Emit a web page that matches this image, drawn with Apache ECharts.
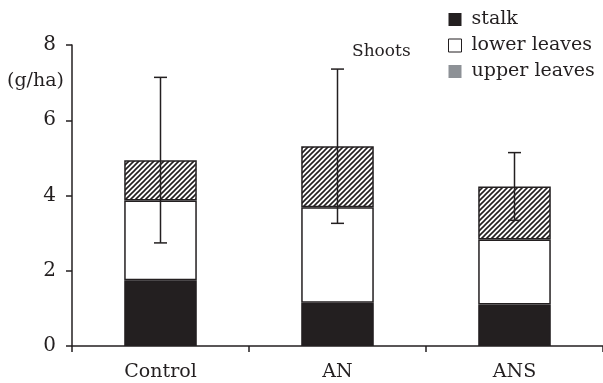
<!DOCTYPE html>
<html><head><meta charset="utf-8">
<script src="https://cdn.jsdelivr.net/npm/echarts@6/dist/echarts.min.js"></script>
<style>html,body{margin:0;padding:0;background:#fff}#c{width:603px;height:383px}</style>
</head><body><div id="c"></div>
<script>
const categories = ['Control', 'AN', 'ANS'];
const stalk = [1.75, 1.15, 1.10];
const lowerLeaves = [2.12, 2.54, 1.73];
const upperLeaves = [1.07, 1.62, 1.41];
const errSD = [2.2, 2.05, 0.9];
const yTicks = [0, 2, 4, 6, 8];

const FONT = 'DejaVu Serif';
const INK = '#231f20';

function hatch() {
  const s = 5, c = document.createElement('canvas');
  c.width = s; c.height = s;
  const g = c.getContext('2d');
  g.fillStyle = '#fff'; g.fillRect(0, 0, s, s);
  g.strokeStyle = INK; g.lineWidth = 1.6;
  g.beginPath();
  g.moveTo(-1, s + 1); g.lineTo(s + 1, -1);
  g.moveTo(-1, 1); g.lineTo(1, -1);
  g.moveTo(s - 1, s + 1); g.lineTo(s + 1, s - 1);
  g.stroke();
  return c;
}

const totals = categories.map((_, i) => stalk[i] + lowerLeaves[i] + upperLeaves[i]);
const errData = categories.map((c, i) => [i, totals[i] - errSD[i], totals[i] + errSD[i]]);

const chart = echarts.init(document.getElementById('c'), null, {renderer: 'canvas'});
const barStyle = {borderColor: INK, borderWidth: 1.5};
chart.setOption({
  animation: false,
  textStyle: {fontFamily: FONT, color: INK},
  grid: {left: 72, top: 45, bottom: 37, width: 536},
  legend: {
    orient: 'vertical', left: 443, top: 5, itemGap: 7,
    itemWidth: 13, itemHeight: 13, icon: 'rect',
    textStyle: {fontFamily: FONT, fontSize: 19, color: INK, padding: [0, 0, 0, 5]},
    data: [
      {name: 'stalk', itemStyle: {color: INK, borderWidth: 0}},
      {name: 'lower leaves', itemStyle: {color: '#fff', borderColor: INK, borderWidth: 1}},
      {name: 'upper leaves', itemStyle: {color: '#8d9196', borderWidth: 0}}
    ]
  },
  xAxis: {
    type: 'category', data: categories,
    axisLine: {lineStyle: {color: INK, width: 1.5}},
    axisTick: {show: true, length: 6, lineStyle: {color: INK, width: 1.5}},
    axisLabel: {fontFamily: FONT, fontSize: 19, color: INK, margin: 17}
  },
  yAxis: {
    type: 'value', min: 0, max: 8, interval: 2,
    axisLine: {show: true, lineStyle: {color: INK, width: 1.5}},
    axisTick: {show: true, length: 6, lineStyle: {color: INK, width: 1.5}},
    splitLine: {show: false},
    axisLabel: {fontFamily: FONT, fontSize: 20, color: INK, margin: 16,
      formatter: v => yTicks.includes(v) ? String(v) : ''}
  },
  graphic: [
    {type: 'text', left: 7, top: 72, style: {text: '(g/ha)', font: '19px "DejaVu Serif"', fill: INK}},
    {type: 'text', left: 352, top: 43, style: {text: 'Shoots', font: '17px "DejaVu Serif"', fill: INK}}
  ],
  series: [
    {name: 'stalk', type: 'bar', stack: 't', barWidth: '41%', data: stalk,
      itemStyle: Object.assign({color: INK}, barStyle)},
    {name: 'lower leaves', type: 'bar', stack: 't', data: lowerLeaves,
      itemStyle: Object.assign({color: '#fff'}, barStyle)},
    {name: 'upper leaves', type: 'bar', stack: 't', data: upperLeaves,
      itemStyle: Object.assign({color: {image: hatch(), repeat: 'repeat'}}, barStyle)},
    {name: 'err', type: 'custom', data: errData, z: 10,
      renderItem: (params, api) => {
        const x = api.value(0);
        const lo = api.coord([x, api.value(1)]);
        const hi = api.coord([x, api.value(2)]);
        const w = 6.5;
        const st = {stroke: INK, lineWidth: 1.5};
        return {type: 'group', children: [
          {type: 'line', shape: {x1: lo[0], y1: lo[1], x2: hi[0], y2: hi[1]}, style: st},
          {type: 'line', shape: {x1: lo[0] - w, y1: lo[1], x2: lo[0] + w, y2: lo[1]}, style: st},
          {type: 'line', shape: {x1: hi[0] - w, y1: hi[1], x2: hi[0] + w, y2: hi[1]}, style: st}
        ]};
      }}
  ]
});
</script></body></html>
